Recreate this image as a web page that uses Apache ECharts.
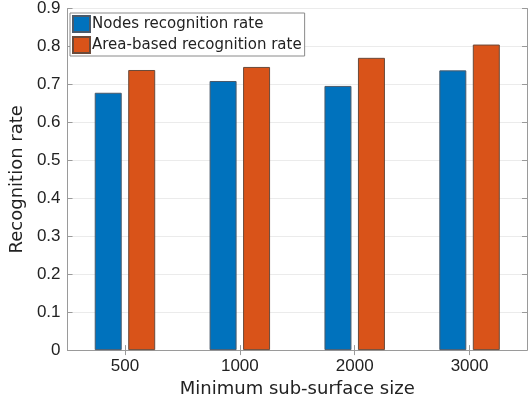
<!DOCTYPE html>
<html>
<head>
<meta charset="utf-8">
<script src="https://cdn.jsdelivr.net/npm/echarts@6/dist/echarts.min.js"></script>
<style>
  html, body { margin: 0; padding: 0; background: #fff; }
  #chart { width: 532px; height: 403px; }
</style>
</head>
<body>
<div id="chart"></div>
<script>
// Recognition rates by minimum sub-surface size
const categories = ['500', '1000', '2000', '3000'];
const nodesRate = [0.678, 0.709, 0.696, 0.737];
const areaRate = [0.738, 0.746, 0.770, 0.805];
const seriesNames = ['Nodes recognition rate', 'Area-based recognition rate'];
const yTicks = [0, 0.1, 0.2, 0.3, 0.4, 0.5, 0.6, 0.7, 0.8, 0.9];

const textFont = '"DejaVu Sans", sans-serif';
const numFont = '"Liberation Sans", Arial, sans-serif';
const axisGray = '#9a9a9a';

const chart = echarts.init(document.getElementById('chart'), null, { renderer: 'canvas' });

chart.setOption({
  animation: false,
  backgroundColor: '#fff',
  grid: { left: 67, right: 5, top: 7, bottom: 52, containLabel: false },
  legend: {
    orient: 'vertical',
    left: 70,
    top: 13,
    padding: [2, 3, 2, 2],
    itemGap: 3,
    itemWidth: 17,
    itemHeight: 16,
    icon: 'rect',
    backgroundColor: '#fff',
    borderColor: '#8a8a8a',
    borderWidth: 1,
    borderRadius: 0,
    textStyle: { fontFamily: textFont, fontSize: 15, color: '#222', padding: [0, 0, 0, -3] },
    data: seriesNames
  },
  xAxis: [
    {
      type: 'category',
      data: categories,
      boundaryGap: true,
      name: 'Minimum sub-surface size',
      nameLocation: 'middle',
      nameGap: 29,
      nameTextStyle: { fontFamily: textFont, fontSize: 18, color: '#222' },
      axisLine: { show: true, lineStyle: { color: axisGray, width: 1 } },
      axisTick: { show: true, inside: true, alignWithLabel: true, length: 5, lineStyle: { color: axisGray } },
      axisLabel: { fontFamily: numFont, fontSize: 17, color: '#222', margin: 8 },
      splitLine: { show: false }
    },
    {
      type: 'category',
      data: categories,
      position: 'top',
      boundaryGap: true,
      axisLine: { show: true, lineStyle: { color: axisGray, width: 1 } },
      axisTick: { show: true, inside: true, alignWithLabel: true, length: 5, lineStyle: { color: axisGray } },
      axisLabel: { show: false },
      splitLine: { show: false }
    }
  ],
  yAxis: [
    {
      type: 'value',
      min: 0,
      max: 0.9,
      interval: 0.1,
      name: 'Recognition rate',
      nameLocation: 'middle',
      nameGap: 36,
      nameTextStyle: { fontFamily: textFont, fontSize: 18, color: '#222' },
      axisLine: { show: true, lineStyle: { color: axisGray, width: 1 } },
      axisTick: { show: true, inside: true, length: 5, lineStyle: { color: axisGray } },
      axisLabel: {
        fontFamily: numFont, fontSize: 17, color: '#222', margin: 7,
        formatter: v => {
          const t = yTicks.find(x => Math.abs(x - v) < 1e-9);
          return t === 0 ? '0' : String(t);
        }
      },
      splitLine: { show: true, lineStyle: { color: '#ebebeb', width: 1 } }
    },
    {
      type: 'value',
      min: 0,
      max: 0.9,
      interval: 0.1,
      position: 'right',
      axisLine: { show: true, lineStyle: { color: axisGray, width: 1 } },
      axisTick: { show: true, inside: true, length: 5, lineStyle: { color: axisGray } },
      axisLabel: { show: false },
      splitLine: { show: false }
    }
  ],
  series: [
    {
      name: seriesNames[0],
      type: 'bar',
      data: nodesRate,
      barWidth: 27,
      barGap: '24%',
      itemStyle: { color: '#0072BD', borderColor: '#4a5a6a', borderWidth: 1 }
    },
    {
      name: seriesNames[1],
      type: 'bar',
      data: areaRate,
      barWidth: 27,
      barGap: '24%',
      itemStyle: { color: '#D95319', borderColor: '#6a4a3a', borderWidth: 1 }
    }
  ]
});
</script>
</body>
</html>
